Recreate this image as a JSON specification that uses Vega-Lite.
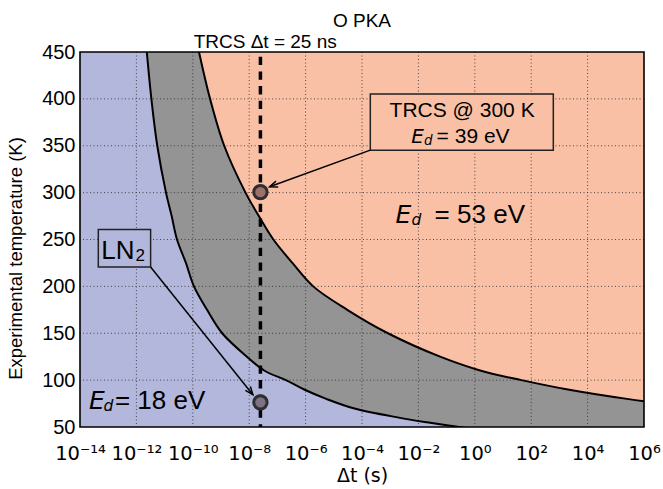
{
  "$schema": "https://vega.github.io/schema/vega-lite/v6.json",
  "width": 564,
  "height": 375,
  "autosize": {"type": "none"},
  "padding": {"left": 80, "top": 52, "right": 19, "bottom": 62},
  "config": {"view": {"fill": "#b3b7db", "stroke": null}, "font": "Liberation Sans"},
  "datasets": {
    "curves": [
      {"T": 45, "left": 6.8, "right": 1e20},
      {"T": 50, "left": 0.28, "right": 3.7e16},
      {"T": 55, "left": 0.02, "right": 7.4e13},
      {"T": 60, "left": 0.002, "right": 4.3e11},
      {"T": 70, "left": 5e-5, "right": 1.3e8},
      {"T": 80, "left": 5.4e-6, "right": 2.5e5},
      {"T": 90, "left": 8.9e-7, "right": 2000},
      {"T": 100, "left": 2e-7, "right": 45},
      {"T": 110, "left": 3.5e-8, "right": 1.66},
      {"T": 125, "left": 8.3e-9, "right": 0.059},
      {"T": 150, "left": 1.1e-9, "right": 8.3e-4},
      {"T": 175, "left": 3.2e-10, "right": 3e-5},
      {"T": 200, "left": 1.1e-10, "right": 1.86e-6},
      {"T": 225, "left": 5.7e-11, "right": 3.4e-7},
      {"T": 250, "left": 2.75e-11, "right": 7.2e-8},
      {"T": 275, "left": 1.78e-11, "right": 2.2e-8},
      {"T": 300, "left": 1.12e-11, "right": 7.4e-9},
      {"T": 350, "left": 5.5e-12, "right": 1.3e-9},
      {"T": 400, "left": 3.4e-12, "right": 4.1e-10},
      {"T": 450, "left": 2.34e-12, "right": 1.66e-10}
    ]
  },
  "layer": [
    {
      "data": {"name": "curves"},
      "mark": {"type": "area", "orient": "horizontal", "interpolate": "catmull-rom", "color": "#949494", "clip": true},
      "encoding": {
        "y": {"field": "T", "type": "quantitative", "title": "Experimental temperature (K)", "scale": {"domain": [50, 450], "nice": false, "zero": false},
          "axis": {"title": "Experimental temperature (K)", "values": [50, 100, 150, 200, 250, 300, 350, 400, 450], "grid": false, "ticks": false, "domain": false,
            "labelFont": "Liberation Sans", "labelFontSize": 20, "labelColor": "black", "labelPadding": 5,
            "titleFont": "Liberation Sans", "titleFontSize": 18.5, "titleFontWeight": "normal", "titleColor": "black", "titleX": -55, "titleY": 206, "titleBaseline": "bottom"}},
        "x": {"field": "left", "type": "quantitative", "title": "Δt (s)", "scale": {"type": "log", "domain": [1e-14, 1e6], "nice": false},
          "axis": {"title": "Δt (s)", "values": [1e-14, 1e-12, 1e-10, 1e-8, 1e-6, 1e-4, 0.01, 1, 100, 10000, 1000000], "grid": false, "ticks": false, "domain": false, "labelOverlap": false, "labelBound": false, "labelFlush": false,
            "labelExpr": "'10' + (round(log(datum.value)/LN10) < 0 ? '⁻' : '') + ['⁰','','²','','⁴','','⁶','','⁸','','¹⁰','','¹²','','¹⁴'][abs(round(log(datum.value)/LN10))]",
            "labelFont": "DejaVu Sans", "labelFontSize": 19.5, "labelColor": "black", "labelBaseline": "alphabetic", "labelPadding": 32,
            "titleFont": "DejaVu Sans", "titleFontSize": 19, "titleFontWeight": "normal", "titleColor": "black", "titleY": 54, "titleBaseline": "alphabetic"}},
        "x2": {"field": "right"}
      }
    },
    {
      "data": {"name": "curves"},
      "mark": {"type": "area", "orient": "horizontal", "interpolate": "catmull-rom", "color": "#f9c0a6", "clip": true},
      "encoding": {
        "y": {"field": "T", "type": "quantitative", "title": "Experimental temperature (K)"},
        "x": {"field": "right", "type": "quantitative", "title": "Δt (s)"},
        "x2": {"datum": 1000000}
      }
    },
    {
      "data": {"values": [{"v": 1e-12}, {"v": 1e-10}, {"v": 1e-8}, {"v": 1e-6}, {"v": 1e-4}, {"v": 0.01}, {"v": 1}, {"v": 100}, {"v": 10000}]},
      "mark": {"type": "rule", "color": "#333333", "strokeWidth": 1, "strokeDash": [1, 2.5], "opacity": 0.85},
      "encoding": {"x": {"field": "v", "type": "quantitative", "title": "Δt (s)"}}
    },
    {
      "data": {"values": [{"h": 100}, {"h": 150}, {"h": 200}, {"h": 250}, {"h": 300}, {"h": 350}, {"h": 400}]},
      "mark": {"type": "rule", "color": "#333333", "strokeWidth": 1, "strokeDash": [1, 2.5], "opacity": 0.85},
      "encoding": {"y": {"field": "h", "type": "quantitative", "title": "Experimental temperature (K)"}}
    },
    {
      "data": {"name": "curves"},
      "mark": {"type": "line", "interpolate": "catmull-rom", "color": "black", "strokeWidth": 2, "clip": true},
      "encoding": {
        "x": {"field": "left", "type": "quantitative", "title": "Δt (s)"},
        "y": {"field": "T", "type": "quantitative", "title": "Experimental temperature (K)"},
        "order": {"field": "T", "type": "quantitative"}
      }
    },
    {
      "data": {"name": "curves"},
      "mark": {"type": "line", "interpolate": "catmull-rom", "color": "black", "strokeWidth": 2, "clip": true},
      "encoding": {
        "x": {"field": "right", "type": "quantitative", "title": "Δt (s)"},
        "y": {"field": "T", "type": "quantitative", "title": "Experimental temperature (K)"},
        "order": {"field": "T", "type": "quantitative"}
      }
    },
    {
      "data": {"values": [{"t": 2.5e-8}]},
      "mark": {"type": "rule", "color": "black", "strokeWidth": 3.5, "strokeDash": [8.3, 6.4], "strokeDashOffset": 10},
      "encoding": {"x": {"field": "t", "type": "quantitative", "title": "Δt (s)"}}
    },
    {
      "data": {"values": [{"x1": 1.97e-4, "x2": 608, "T1": 345.3, "T2": 405.1}]},
      "mark": {"type": "rect", "fill": "#f9c0a6", "stroke": "#222222", "strokeWidth": 1.5},
      "encoding": {
        "x": {"field": "x1", "type": "quantitative", "title": "Δt (s)"}, "x2": {"field": "x2"},
        "y": {"field": "T1", "type": "quantitative", "title": "Experimental temperature (K)"}, "y2": {"field": "T2"}
      }
    },
    {
      "data": {"values": [{"x1": 4.46e-14, "x2": 3.19e-12, "T1": 220.7, "T2": 260.7}]},
      "mark": {"type": "rect", "fill": "#b3b7db", "stroke": "#222222", "strokeWidth": 1.5},
      "encoding": {
        "x": {"field": "x1", "type": "quantitative", "title": "Δt (s)"}, "x2": {"field": "x2"},
        "y": {"field": "T1", "type": "quantitative", "title": "Experimental temperature (K)"}, "y2": {"field": "T2"}
      }
    },
    {
      "data": {"values": [
        {"x1": 3.19e-12, "T1": 220.7, "x2": 1.35e-8, "T2": 84.5},
        {"x1": 1.97e-4, "T1": 345.3, "x2": 5.28e-8, "T2": 306.2}
      ]},
      "mark": {"type": "rule", "color": "black", "strokeWidth": 1.5},
      "encoding": {
        "x": {"field": "x1", "type": "quantitative", "title": "Δt (s)"}, "x2": {"field": "x2"},
        "y": {"field": "T1", "type": "quantitative", "title": "Experimental temperature (K)"}, "y2": {"field": "T2"}
      }
    },
    {
      "data": {"values": [{"x": 1.35e-8, "T": 84.5}]},
      "mark": {"type": "point", "shape": "M-0.4,1L0,0L0.4,1", "filled": false, "stroke": "black", "strokeWidth": 1.5, "size": 256, "angle": 141.3, "opacity": 1},
      "encoding": {"x": {"field": "x", "type": "quantitative", "title": "Δt (s)"}, "y": {"field": "T", "type": "quantitative", "title": "Experimental temperature (K)"}}
    },
    {
      "data": {"values": [{"x": 5.28e-8, "T": 306.2}]},
      "mark": {"type": "point", "shape": "M-0.4,1L0,0L0.4,1", "filled": false, "stroke": "black", "strokeWidth": 1.5, "size": 256, "angle": 250, "opacity": 1},
      "encoding": {"x": {"field": "x", "type": "quantitative", "title": "Δt (s)"}, "y": {"field": "T", "type": "quantitative", "title": "Experimental temperature (K)"}}
    },
    {
      "data": {"values": [{"x": 2.5e-8, "T": 300.5, "which": "TRCS 300 K"}, {"x": 2.5e-8, "T": 76.3, "which": "LN2"}]},
      "mark": {"type": "point", "filled": true, "stroke": "#2e2e2e", "strokeWidth": 3, "size": 180, "opacity": 1},
      "encoding": {
        "x": {"field": "x", "type": "quantitative", "title": "Δt (s)"},
        "y": {"field": "T", "type": "quantitative", "title": "Experimental temperature (K)"},
        "fill": {"field": "which", "type": "nominal", "scale": {"domain": ["TRCS 300 K", "LN2"], "range": ["#9c716b", "#7b7283"]}, "legend": null}
      }
    },
    {
      "data": {"values": [{"x": 2.07e-14, "T": 69.6, "text": "E"}, {"x": 1.55e-3, "T": 267.1, "text": "E"}]},
      "mark": {"type": "text", "font": "DejaVu Sans", "fontSize": 25, "fontStyle": "italic", "align": "left", "baseline": "alphabetic", "color": "black"},
      "encoding": {"x": {"field": "x", "type": "quantitative", "title": "Δt (s)"}, "y": {"field": "T", "type": "quantitative", "title": "Experimental temperature (K)"}, "text": {"field": "text"}}
    },
    {
      "data": {"values": [{"x": 6.87e-14, "T": 67.4, "text": "d"}, {"x": 5.74e-3, "T": 265.5, "text": "d"}]},
      "mark": {"type": "text", "font": "DejaVu Sans", "fontSize": 15.5, "fontStyle": "italic", "align": "left", "baseline": "alphabetic", "color": "black"},
      "encoding": {"x": {"field": "x", "type": "quantitative", "title": "Δt (s)"}, "y": {"field": "T", "type": "quantitative", "title": "Experimental temperature (K)"}, "text": {"field": "text"}}
    },
    {
      "data": {"values": [{"x": 1.73e-13, "T": 69.6, "text": "= 18 eV"}, {"x": 3.76e-2, "T": 267.1, "text": "= 53 eV"}, {"x": 5.69e-14, "T": 229.7, "text": "LN"}]},
      "mark": {"type": "text", "font": "Liberation Sans", "fontSize": 26, "align": "left", "baseline": "alphabetic", "color": "black"},
      "encoding": {"x": {"field": "x", "type": "quantitative", "title": "Δt (s)"}, "y": {"field": "T", "type": "quantitative", "title": "Experimental temperature (K)"}, "text": {"field": "text"}}
    },
    {
      "data": {"values": [{"x": 9.3e-13, "T": 226.8, "text": "2"}]},
      "mark": {"type": "text", "font": "Liberation Sans", "fontSize": 17, "align": "left", "baseline": "alphabetic", "color": "black"},
      "encoding": {"x": {"field": "x", "type": "quantitative", "title": "Δt (s)"}, "y": {"field": "T", "type": "quantitative", "title": "Experimental temperature (K)"}, "text": {"field": "text"}}
    },
    {
      "data": {"values": [{"x": 5.6e-3, "T": 352.5, "text": "E"}]},
      "mark": {"type": "text", "font": "DejaVu Sans", "fontSize": 20, "fontStyle": "italic", "align": "left", "baseline": "alphabetic", "color": "black"},
      "encoding": {"x": {"field": "x", "type": "quantitative", "title": "Δt (s)"}, "y": {"field": "T", "type": "quantitative", "title": "Experimental temperature (K)"}, "text": {"field": "text"}}
    },
    {
      "data": {"values": [{"x": 1.59e-2, "T": 350.9, "text": "d"}]},
      "mark": {"type": "text", "font": "DejaVu Sans", "fontSize": 13.5, "fontStyle": "italic", "align": "left", "baseline": "alphabetic", "color": "black"},
      "encoding": {"x": {"field": "x", "type": "quantitative", "title": "Δt (s)"}, "y": {"field": "T", "type": "quantitative", "title": "Experimental temperature (K)"}, "text": {"field": "text"}}
    },
    {
      "data": {"values": [{"x": 4.42e-2, "T": 352.5, "text": "= 39 eV"}]},
      "mark": {"type": "text", "font": "Liberation Sans", "fontSize": 21, "align": "left", "baseline": "alphabetic", "color": "black"},
      "encoding": {"x": {"field": "x", "type": "quantitative", "title": "Δt (s)"}, "y": {"field": "T", "type": "quantitative", "title": "Experimental temperature (K)"}, "text": {"field": "text"}}
    },
    {
      "data": {"values": [{"x": 0.355, "T": 380.9, "text": "TRCS @ 300 K"}]},
      "mark": {"type": "text", "font": "Liberation Sans", "fontSize": 21, "align": "center", "baseline": "alphabetic", "color": "black"},
      "encoding": {"x": {"field": "x", "type": "quantitative", "title": "Δt (s)"}, "y": {"field": "T", "type": "quantitative", "title": "Experimental temperature (K)"}, "text": {"field": "text"}}
    },
    {
      "data": {"values": [{"x": 3.7e-8, "T": 453.9, "text": "TRCS Δt = 25 ns"}, {"x": 1e-4, "T": 476.5, "text": "O PKA"}]},
      "mark": {"type": "text", "font": "Liberation Sans", "fontSize": 19, "align": "center", "baseline": "alphabetic", "color": "black"},
      "encoding": {"x": {"field": "x", "type": "quantitative", "title": "Δt (s)"}, "y": {"field": "T", "type": "quantitative", "title": "Experimental temperature (K)"}, "text": {"field": "text"}}
    },
    {
      "data": {"values": [{}]},
      "mark": {"type": "rect", "filled": false, "fill": null, "stroke": "black", "strokeWidth": 1.6},
      "encoding": {
        "x": {"datum": 1e-14, "type": "quantitative", "title": "Δt (s)"}, "x2": {"datum": 1000000},
        "y": {"datum": 50, "type": "quantitative", "title": "Experimental temperature (K)"}, "y2": {"datum": 450}
      }
    }
  ]
}
